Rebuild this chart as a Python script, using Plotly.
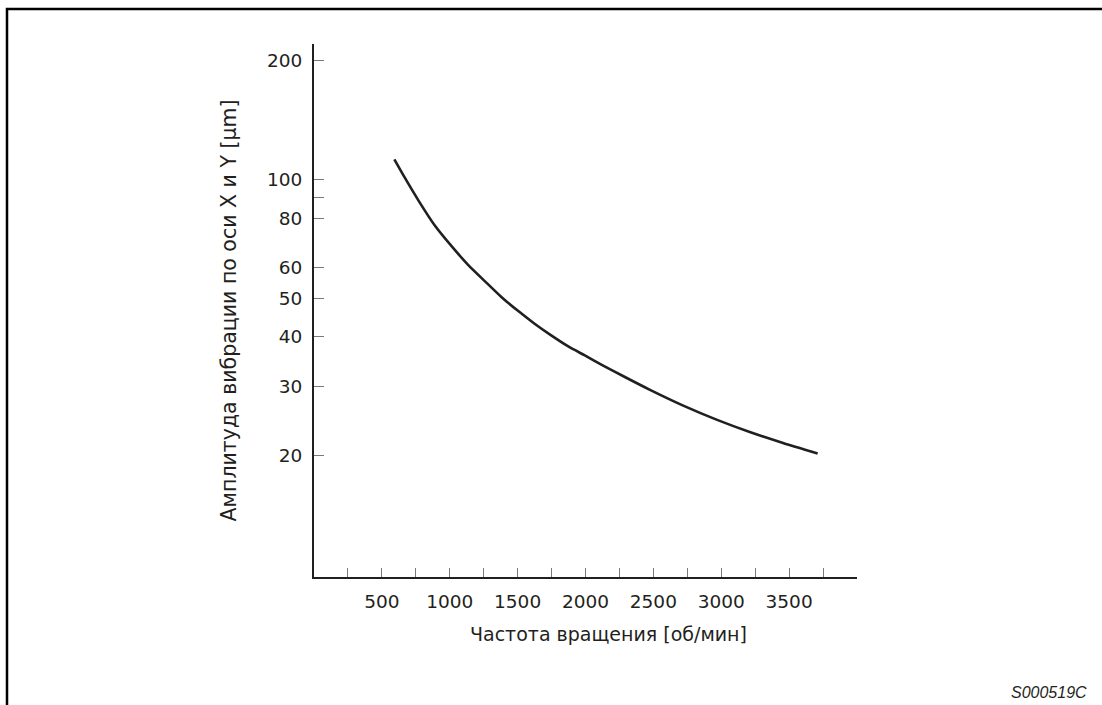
import plotly.graph_objects as go

# Data
rpm = [592, 670, 770, 890, 1015, 1135, 1260, 1380, 1505, 1625, 1750, 1870,
       1995, 2130, 2290, 2475, 2720, 2965, 3210, 3455, 3710]
amplitude = [112.7, 101.1, 88.6, 76.6, 67.8, 60.9, 55.3, 50.5, 46.5, 43.2, 40.3,
             37.9, 35.9, 33.85, 31.66, 29.38, 26.8, 24.7, 22.98, 21.56, 20.28]

x_tick_values = [250, 500, 750, 1000, 1250, 1500, 1750, 2000, 2250, 2500,
                 2750, 3000, 3250, 3500, 3750]
x_tick_labels = ["", "500", "", "1000", "", "1500", "", "2000", "", "2500",
                 "", "3000", "", "3500", ""]
y_tick_values = [20, 30, 40, 50, 60, 80, 90, 100, 200]
y_tick_labels = ["20", "30", "40", "50", "60", "80", "", "100", "200"]

x_title = "Частота вращения [об/мин]"
y_title = "Амплитуда вибрации по оси X и Y [µm]"
code_label = "S000519C"

W, H = 1102, 705
L, R, T, B = 314, 245, 44, 128
pw, ph = W - L - R, H - T - B


def px_to_paper_x(px):
    return (px - L) / pw


def py_to_paper_y(py):
    return (H - B - py) / ph


ink = "#231f20"
tick_col = "#7a7a7a"
font_family = "DejaVu Sans, Verdana, sans-serif"

fig = go.Figure()
fig.add_trace(go.Scatter(
    x=rpm, y=amplitude, mode="lines",
    line=dict(color=ink, width=2.6, shape="spline", smoothing=0.6),
    hoverinfo="x+y", showlegend=False,
))

fig.update_layout(
    width=W, height=H,
    margin=dict(l=L, r=R, t=T, b=B, pad=0),
    paper_bgcolor="white", plot_bgcolor="white",
    font=dict(family=font_family, size=18.5, color=ink),
    xaxis=dict(
        range=[0, 4000], showgrid=False, zeroline=False,
        showline=True, linecolor=ink, linewidth=2,
        ticks="inside", ticklen=9, tickwidth=1.4, tickcolor=tick_col,
        tickmode="array", tickvals=x_tick_values, ticktext=x_tick_labels,
        ticklabelstandoff=7,
        fixedrange=True,
    ),
    yaxis=dict(
        type="log", range=[0.994, 2.344], showgrid=False, zeroline=False,
        showline=True, linecolor=ink, linewidth=2,
        ticks="inside", ticklen=10, tickwidth=1.4, tickcolor=tick_col,
        tickmode="array", tickvals=y_tick_values, ticktext=y_tick_labels,
        ticklabelstandoff=6,
        title=dict(text=y_title, standoff=25, font=dict(size=20.5)),
        fixedrange=True,
    ),
    shapes=[
        dict(type="path", xref="paper", yref="paper",
             path=(f"M {px_to_paper_x(7)} {py_to_paper_y(712)} "
                   f"L {px_to_paper_x(7)} {py_to_paper_y(9)} "
                   f"L {px_to_paper_x(1110)} {py_to_paper_y(9)}"),
             line=dict(color="black", width=2.5)),
    ],
    annotations=[
        dict(text=x_title, xref="paper", yref="paper",
             x=px_to_paper_x(608), y=py_to_paper_y(634),
             xanchor="center", yanchor="middle", showarrow=False,
             font=dict(size=19, color=ink)),
        dict(text=f"<i>{code_label}</i>", xref="paper", yref="paper",
             x=px_to_paper_x(1089), y=py_to_paper_y(692),
             xanchor="right", yanchor="middle", showarrow=False,
             font=dict(family="Liberation Sans, Arial, sans-serif",
                       size=16, color=ink)),
    ],
)

fig.write_html(
    "out.html",
    config={"displayModeBar": False},
    post_script="document.body.style.margin='0px';"
                "document.body.style.overflow='hidden';",
)
